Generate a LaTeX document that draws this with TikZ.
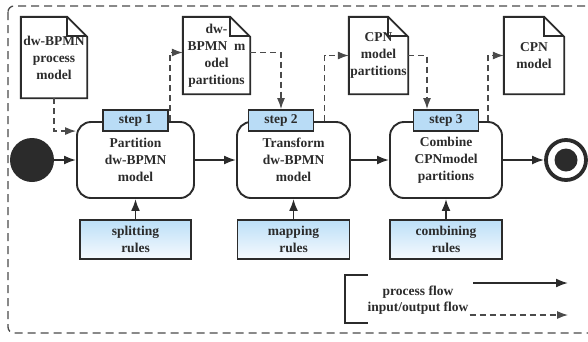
\documentclass[tikz,border=0pt]{standalone}
\usepackage{fontspec}
\setmainfont{Liberation Serif}
\usepackage{xcolor}
\usetikzlibrary{positioning,calc,arrows.meta}

\definecolor{tabblue}{HTML}{B9DCF6}
\definecolor{ruletop}{HTML}{BCDFF7}
\definecolor{rulebot}{HTML}{F6FAFE}
\definecolor{ink}{HTML}{2B2B2B}
\definecolor{dashgray}{HTML}{4A4A4A}

\tikzset{
	proc/.style={draw=ink,line width=1.9pt,rounded corners=14pt,minimum height=76pt,align=center,text=ink},
	steptab/.style={draw=ink,line width=1.9pt,fill=tabblue,minimum width=65pt,minimum height=21pt,inner sep=0pt,text=ink},
	rulebox/.style={draw=ink,line width=1.9pt,top color=ruletop,bottom color=rulebot,minimum width=111pt,minimum height=39pt,align=center,text=ink},
	docnode/.style={minimum height=77pt,align=center,inner sep=0pt,text=ink},
	flow/.style={-{Latex[length=12pt,width=9pt]},line width=1.9pt,draw=ink},
	ioflow/.style={-{Latex[length=11pt,width=8pt]},line width=1.2pt,draw=dashgray,dash pattern=on 6pt off 4pt}
}

\begin{document}
\begin{tikzpicture}[x=1pt,y=-1pt,font=\fontsize{13.5}{17}\selectfont\bfseries]
	\useasboundingbox (0,0) rectangle (588,341);
	\clip (0,0) rectangle (588,341);
	% outer frame
	\draw[dashgray,line width=1.3pt,dash pattern=on 8pt off 5pt,rounded corners=6pt] (8,6) rectangle (620,333);

	% start and end
	\node[circle,fill=ink,minimum size=44pt,inner sep=0pt] (start) at (32,160) {};
	\node[circle,draw=ink,line width=3.8pt,minimum size=40pt,inner sep=0pt] (stop) at (566,160) {};
	\fill[ink] (stop.center) circle (11.5);

	% process steps
	\node[proc,minimum width=117pt] (p1) at (135.5,160) {Partition\\dw-BPMN\\model};
	\node[proc,minimum width=113pt] (p2) at (293.5,160) {Transform\\dw-BPMN\\model};
	\node[proc,minimum width=112pt] (p3) at (446,160) {Combine\\CPNmodel\\partitions};
	\node[steptab] (t1) at (135.5,120.5) {step 1};
	\node[steptab] (t2) at (281,120.5) {step 2};
	\node[steptab] (t3) at (446,120.5) {step 3};

	% documents
	\node[docnode,minimum width=66pt,minimum height=81pt] (d1) at (54,57.5) {dw-BPMN\\process\\model};
	\node[docnode,minimum width=67pt] (d2) at (216.5,55.5) {dw-\\BPMN\ \ m\\odel\\partitions};
	\node[docnode,minimum width=59pt] (d3) at (378.5,55.5) {CPN\\model\\partitions};
	\node[docnode,minimum width=60pt] (d4) at (534,55.5) {CPN\\model};
	\foreach \d in {d1,d2,d3,d4}{
		\draw[ink,line width=1.9pt,line join=miter] (\d.north west) -- ($(\d.north east)+(-20,0)$) -- ($(\d.north east)+(0,20)$) -- (\d.south east) -- (\d.south west) -- cycle;
		\draw[ink,line width=1.6pt] ($(\d.north east)+(-20,0)$) -- ($(\d.north east)+(-20,19)$) -- ($(\d.north east)+(0,19)$);
	}

	% rules
	\node[rulebox] (r1) at (135.5,239.5) {splitting\\rules};
	\node[rulebox,minimum width=112pt] (r2) at (293.5,239.5) {mapping\\rules};
	\node[rulebox,minimum width=112pt] (r3) at (446,239.5) {combining\\rules};

	% process flow
	\draw[flow] (start) -- (p1);
	\draw[flow] (p1) -- (p2);
	\draw[flow] (p2) -- (p3);
	\draw[flow] (p3) -- (stop);
	\foreach \i in {1,2,3}
	\draw[flow] (r\i.north) -- (p\i.south);

	% input/output flow
	\draw[ioflow] (d1.south) |- ($(p1.north west)+(0,10)$);
	\draw[ioflow] ([xshift=34.5pt]p1.north) |- ([yshift=3pt]d2.west);
	\draw[ioflow] ([yshift=3pt]d2.east) -| (t2.north);
	\draw[ioflow] ([xshift=31pt]p2.north) |- (d3.west);
	\draw[ioflow] (d3.east) -| ([xshift=-19pt]t3.north);
	\draw[ioflow] ([xshift=42pt]p3.north) |- (d4.west);

	% legend
	\draw[ink,line width=1.9pt] (368,275) -- (345,275) -- (345,323) -- (368,323);
	\node[text=ink] (lg1) at (418,292) {process flow};
	\node[text=ink,inner sep=1pt] (lg2) at (418,308) {input/output flow};
	\coordinate (lg1a) at (473,283);
	\coordinate (lg1b) at (568,283);
	\coordinate (lg2a) at (lg2.east |- 0,315);
	\coordinate (lg2b) at (568,315);
	\draw[flow] (lg1a) -- (lg1b);
	\draw[ioflow] (lg2a) -- (lg2b);
\end{tikzpicture}
\end{document}
